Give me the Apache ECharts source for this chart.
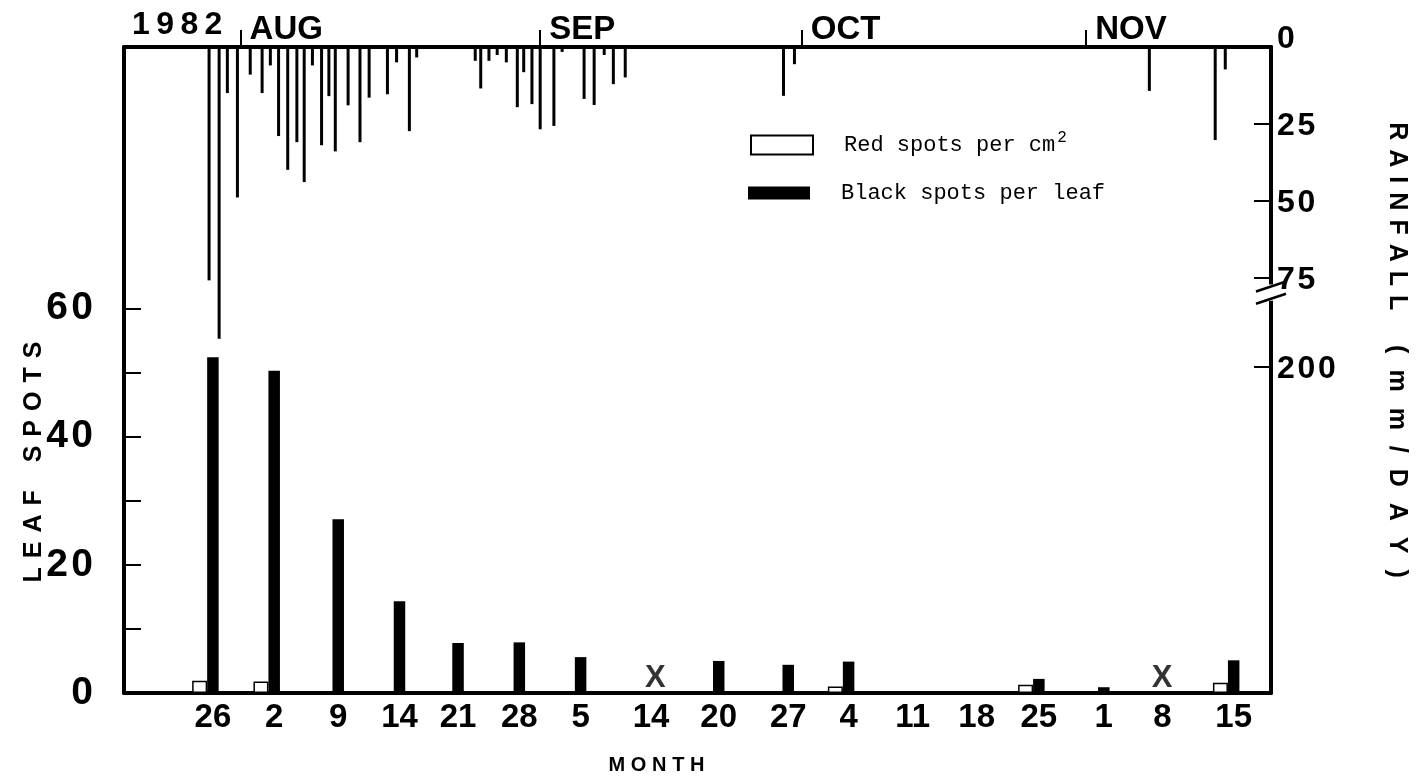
<!DOCTYPE html>
<html>
<head>
<meta charset="utf-8">
<title>Leaf spots and rainfall, 1982</title>
<script src="https://cdn.jsdelivr.net/npm/echarts@6.0.0/dist/echarts.min.js"></script>
<style>
html, body { margin: 0; padding: 0; background: #fff; }
#main { width: 1423px; height: 783px; }
</style>
</head>
<body>
<div id="main"></div>
<script>
// x positions are days counted from 1 July, as drawn in the figure
var sampleX = [27.5, 34.2, 41.2, 47.9, 54.3, 61.0, 67.7, 75.4, 82.8, 90.4, 97.0, 104.0, 111.0, 117.8, 124.9, 131.3, 139.1];
var sampleLabels = ['26', '2', '9', '14', '21', '28', '5', '14', '20', '27', '4', '11', '18', '25', '1', '8', '15'];
var redSpots = [1.9, 1.8, null, null, null, null, null, null, null, null, 1.0, null, null, 1.3, null, null, 1.6];
var blackSpots = [52.4, 50.3, 27.1, 14.3, 7.8, 7.9, 5.6, null, 5.0, 4.4, 4.9, null, null, 2.2, 0.9, null, 5.1];
// no sample taken (marked X)
var missingX = [76.7, 132.1];

// daily rainfall, mm
var rainX = [27.9, 29.0, 29.9, 31.0, 32.4, 33.7, 34.6, 35.5, 36.5, 37.5, 38.3, 39.2, 40.2, 41.0, 41.7, 43.1, 44.4, 45.4,
             47.4, 48.4, 49.8, 50.6, 57.0, 57.6, 58.5, 59.4, 60.4, 61.6, 62.3, 63.2, 64.1, 65.6, 66.5, 68.9, 70.0, 71.1,
             72.1, 73.4, 90.7, 91.9, 130.7, 137.9, 139.0];
var rainMm = [76, 191, 15, 49, 9, 15, 6, 29, 40, 31, 44, 6, 32, 16, 34, 19, 31, 16.5,
              15.4, 5, 27.4, 3.4, 4.5, 13.5, 4.5, 2.6, 5, 19.6, 8.2, 18.6, 26.8, 25.7, 1.6, 16.9, 18.9, 2.6,
              12.1, 9.9, 15.9, 5.6, 14.3, 30.3, 7.3];

var monthX = [31.35, 64.1, 92.7, 123.8];
var monthNames = ['AUG', 'SEP', 'OCT', 'NOV'];
var leafTicks = [0, 10, 20, 30, 40, 50, 60];
var leafLabels = [0, 20, 40, 60];
var rainTicks = [25, 50, 75, 200];
var rainLabels = [0, 25, 50, 75, 200];

var sans = '"Liberation Sans", Arial, sans-serif';
var mono = '"Liberation Mono", "DejaVu Sans Mono", monospace';
var HAIR = '\u200A', THIN = '\u2009';

function pairs(xs, ys) {
    return xs.map(function (x, i) { return [x, ys[i]]; });
}
// spread the letters out like the typeset original
function spaced(s, gap) {
    return s.split('').join(gap);
}

var chart = echarts.init(document.getElementById('main'));

var option = {
    animation: false,
    backgroundColor: '#fff',
    textStyle: { fontFamily: sans, color: '#000' },
    title: [{
        text: spaced('1982', THIN),
        left: 132, top: 9, padding: 0,
        textStyle: { fontFamily: sans, fontSize: 32, fontWeight: 'bold', color: '#000' }
    }],
    legend: [{
        data: ['Red spots per cm\u00b2'],
        left: 750, top: 130, padding: 0,
        itemWidth: 62, itemHeight: 19,
        icon: 'rect', selectedMode: false,
        formatter: function (n) { return 'Red spots per cm{sup|2}'; },
        textStyle: {
            fontFamily: mono, fontSize: 22, color: '#000', padding: [0, 0, 0, 26],
            rich: { sup: { fontFamily: mono, fontSize: 16, padding: [0, 0, 14, 2] } }
        }
    }, {
        data: ['Black spots per leaf'],
        left: 748, top: 182, padding: 0,
        itemWidth: 62, itemHeight: 13,
        icon: 'rect', selectedMode: false,
        textStyle: { fontFamily: mono, fontSize: 22, color: '#000', padding: [0, 0, 0, 26] }
    }],
    grid: { left: 124, right: 152, top: 47, bottom: 90, containLabel: false, outerBoundsMode: 'none' },
    xAxis: [{
        type: 'value', position: 'bottom', min: 18.6, max: 144.0,
        axisLine: { onZero: false, lineStyle: { color: '#000', width: 4 } },
        axisTick: { show: false },
        splitLine: { show: false },
        axisLabel: {
            customValues: sampleX,
            formatter: function (v) { return sampleLabels[sampleX.indexOf(v)]; },
            fontFamily: sans, fontSize: 33, fontWeight: 'bold', color: '#000', margin: 8,
            padding: [0, 0, 0, 15]
        },
        name: spaced('MONTH', THIN + HAIR), nameLocation: 'middle', nameGap: 62, nameMoveOverlap: false,
        nameTextStyle: { fontFamily: sans, fontSize: 20, fontWeight: 'bold', color: '#000', padding: [0, 82, 0, 0] }
    }, {
        type: 'value', position: 'top', min: 18.6, max: 144.0,
        axisLine: { onZero: false, lineStyle: { color: '#000', width: 4 } },
        axisTick: { show: true, customValues: monthX, length: 17, inside: false, lineStyle: { color: '#000', width: 2 } },
        splitLine: { show: false },
        axisLabel: {
            customValues: monthX,
            formatter: function (v) { return monthNames[monthX.indexOf(v)]; },
            fontFamily: sans, fontSize: 33, fontWeight: 'bold', color: '#000',
            align: 'left', margin: 1, padding: [0, 0, 0, 9]
        }
    }],
    yAxis: [{
        type: 'value', position: 'left', min: 0, max: 100.8,
        axisLine: { show: true, onZero: false, lineStyle: { color: '#000', width: 4 } },
        axisTick: { show: true, customValues: leafTicks, inside: true, length: 17, lineStyle: { color: '#000', width: 2 } },
        splitLine: { show: false },
        axisLabel: {
            customValues: leafLabels,
            formatter: function (v) { return spaced(String(v), HAIR); },
            fontFamily: sans, fontSize: 39, fontWeight: 'bold', color: '#000', margin: 31
        },
        name: spaced('LEAF', ' ' + HAIR) + '    ' + spaced('SPOTS', ' ' + HAIR),
        nameLocation: 'middle', nameRotate: 90, nameGap: 77, nameMoveOverlap: false,
        nameTextStyle: { fontFamily: sans, fontSize: 25, fontWeight: 'bold', color: '#000', padding: [0, 184, 0, 0] }
    }, {
        type: 'value', position: 'right', min: 0, max: 306.4, inverse: true,
        breaks: [{ start: 78, end: 178, gap: 4 }],
        breakArea: { show: false },
        axisLine: { show: true, onZero: false, lineStyle: { color: '#000', width: 4 } },
        axisTick: { show: true, customValues: rainTicks, inside: true, length: 17, lineStyle: { color: '#000', width: 2 } },
        splitLine: { show: false },
        axisLabel: {
            customValues: rainLabels,
            formatter: function (v) {
                return v === 0 ? '{top|0}' : spaced(String(v), HAIR);
            },
            rich: { top: { fontFamily: sans, fontSize: 32, fontWeight: 'bold', color: '#000', padding: [0, 0, 20, 0] } },
            fontFamily: sans, fontSize: 32, fontWeight: 'bold', color: '#000', margin: 6, padding: [5, 0, 0, 0]
        },
        name: spaced('RAINFALL', ' ' + HAIR) + '     ' + spaced('(mm/DAY)', '  ' + HAIR),
        nameLocation: 'middle', nameRotate: -90, nameGap: 113, nameMoveOverlap: false,
        nameTextStyle: { fontFamily: sans, fontSize: 25, fontWeight: 'bold', color: '#000', padding: [0, 40, 0, 0] }
    }],
    series: [{
        name: 'Rainfall', type: 'bar', xAxisIndex: 1, yAxisIndex: 1,
        data: pairs(rainX, rainMm), barWidth: 3,
        itemStyle: { color: '#000' }
    }, {
        name: 'Red spots per cm\u00b2', type: 'bar', xAxisIndex: 0, yAxisIndex: 0,
        data: pairs(sampleX, redSpots), barWidth: 15, barGap: '0%',
        itemStyle: { color: '#fff', borderColor: '#000', borderWidth: 1.5 }
    }, {
        name: 'Black spots per leaf', type: 'bar', xAxisIndex: 0, yAxisIndex: 0,
        data: pairs(sampleX, blackSpots), barWidth: 11.5, barGap: '0%',
        itemStyle: { color: '#000' }
    }, {
        name: 'No sample', type: 'scatter', xAxisIndex: 0, yAxisIndex: 0,
        data: missingX.map(function (x) { return [x, 0]; }),
        symbolSize: 1, itemStyle: { color: 'rgba(0,0,0,0)' }, clip: false,
        label: { show: true, formatter: 'X', position: 'inside', offset: [0, -15], fontFamily: sans, fontSize: 31, fontWeight: 'bold', color: '#000' }
    }]
};

chart.setOption(option);

// break marks on the rainfall axis
var xr = chart.convertToPixel({ xAxisIndex: 0 }, 144.0);
var yb1 = chart.convertToPixel({ yAxisIndex: 1 }, 78);
var yb2 = chart.convertToPixel({ yAxisIndex: 1 }, 178);
chart.setOption({
    graphic: [{
        type: 'rect', z: 100,
        shape: { x: xr - 4, y: yb1 - 2, width: 8, height: yb2 - yb1 + 4 },
        style: { fill: '#fff' }
    }, {
        type: 'line', z: 101,
        shape: { x1: xr - 15, y1: yb1 + 5, x2: xr + 15, y2: yb1 - 5 },
        style: { stroke: '#000', lineWidth: 2.5 }
    }, {
        type: 'line', z: 101,
        shape: { x1: xr - 15, y1: yb2 + 5, x2: xr + 15, y2: yb2 - 5 },
        style: { stroke: '#000', lineWidth: 2.5 }
    }]
});
</script>
</body>
</html>
